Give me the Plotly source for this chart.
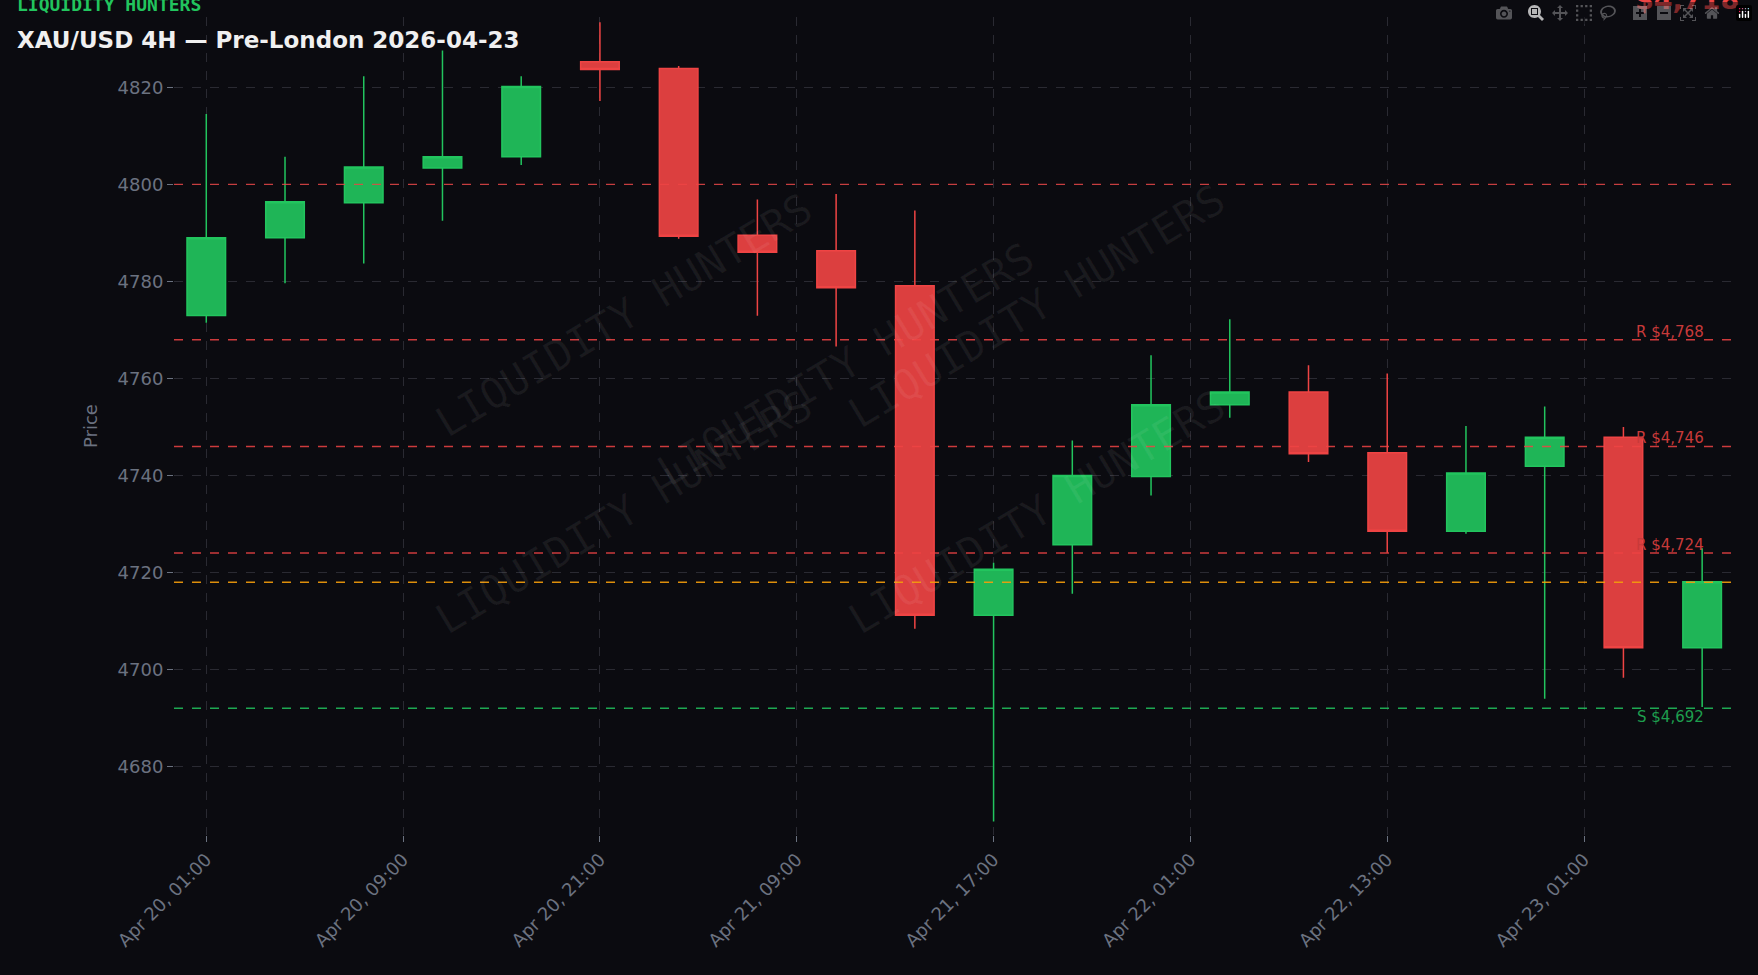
import plotly.graph_objects as go

# 4H candles, Apr 20 01:00 -> Apr 23 13:00
opens = [4773, 4789, 4796.2, 4803.4, 4805.7, 4825.3, 4823.9, 4789.5, 4786.3, 4779.1,
         4711.2, 4725.7, 4739.8, 4754.6, 4757.2, 4744.7, 4728.5, 4741.9, 4747.9, 4704.5]
closes = [4789, 4796.4, 4803.6, 4805.7, 4820.2, 4823.7, 4789.3, 4786, 4778.7, 4711.2,
          4720.7, 4740, 4754.6, 4757.2, 4744.5, 4728.5, 4740.5, 4747.9, 4704.5, 4718.1]
highs = [4814.5, 4805.7, 4822.3, 4827.6, 4822.3, 4833.4, 4824.4, 4796.9, 4798, 4794.6,
         4722, 4747.2, 4764.8, 4772.2, 4762.7, 4761, 4750.2, 4754.2, 4750, 4725]
lows = [4771.5, 4779.6, 4783.7, 4792.5, 4804, 4817.2, 4788.8, 4772.9, 4766.6, 4708.4,
        4668.7, 4715.6, 4735.9, 4751.9, 4742.8, 4724.1, 4728, 4694, 4698.3, 4692.3]

tick_pos = [0, 2.5, 5, 7.5, 10, 12.5, 15, 17.5]
tick_text = ["Apr 20, 01:00", "Apr 20, 09:00", "Apr 20, 21:00", "Apr 21, 09:00",
             "Apr 21, 17:00", "Apr 22, 01:00", "Apr 22, 13:00", "Apr 23, 01:00"]

resistance = [4768, 4746, 4724]
support = [4692]
current = 4718

bg = "#0b0b10"
green = "#22c55e"
red = "#ef4444"

fig = go.Figure()
fig.add_trace(go.Candlestick(
    x=list(range(len(opens))), open=opens, high=highs, low=lows, close=closes,
    increasing=dict(line=dict(color=green, width=1.5), fillcolor="#1fb557"),
    decreasing=dict(line=dict(color=red, width=1.5), fillcolor="#dc3f3f"),
    whiskerwidth=0, showlegend=False,
))

fig.add_hline(y=4800, line=dict(color=red, width=1.2, dash="dash"), opacity=0.8)
for lv in resistance:
    fig.add_hline(y=lv, line=dict(color=red, width=1.5, dash="dash"), opacity=0.85)
    fig.add_annotation(x=19.05, y=lv, text=f"R ${lv:,}", showarrow=False, xanchor="right",
                       yanchor="middle", yshift=8, font=dict(color="#c83a3a", size=15,
                       family="DejaVu Sans"))
for lv in support:
    fig.add_hline(y=lv, line=dict(color=green, width=1.5, dash="dash"), opacity=0.85)
    fig.add_annotation(x=19.05, y=lv, text=f"S ${lv:,}", showarrow=False, xanchor="right",
                       yanchor="middle", yshift=-9, font=dict(color="#1e9e4e", size=15,
                       family="DejaVu Sans"))
fig.add_hline(y=current, line=dict(color="#f59e0b", width=1.5, dash="dash"), opacity=0.9)

# watermarks
for (wx, wy) in [(0.16, 0.80), (0.43, 0.575), (0.68, 0.81), (0.16, 0.23), (0.68, 0.23)]:
    fig.add_annotation(xref="paper", yref="paper", x=wx, y=wy, text="LIQUIDITY HUNTERS",
                       showarrow=False, textangle=-31,
                       font=dict(color="rgba(255,255,255,0.06)", size=42, family="DejaVu Sans Mono"))

fig.add_annotation(xref="paper", yref="paper", x=-0.102, y=1.0, xanchor="left", yanchor="bottom",
                   text="<b>LIQUIDITY HUNTERS</b>", showarrow=False,
                   font=dict(color=green, size=18, family="DejaVu Sans Mono"))
fig.add_annotation(xref="paper", yref="paper", x=-0.102, y=0.99, xanchor="left", yanchor="top",
                   text="<b>XAU/USD 4H — Pre-London 2026-04-23</b>", showarrow=False,
                   font=dict(color="#f0f0f0", size=23, family="DejaVu Sans"))
fig.add_annotation(xref="paper", yref="paper", x=1.003, y=1.0, xanchor="right", yanchor="bottom",
                   text=f"<b>${current:,}</b>", showarrow=False,
                   font=dict(color=red, size=27, family="DejaVu Sans"))

axis_common = dict(showgrid=True, gridcolor="#2a2a32", griddash="dash", gridwidth=1,
                   zeroline=False, showline=False, tickfont=dict(color="#6b7280", size=18),
                   ticks="outside", ticklen=6, tickcolor="#6b7280")
fig.update_xaxes(range=[-0.41, 19.43], tickmode="array", tickvals=tick_pos, ticktext=tick_text,
                 tickangle=-45, rangeslider=dict(visible=False), **axis_common)
fig.update_yaxes(range=[4665.9, 4834.5], dtick=20, title=dict(text="Price", font=dict(color="#6b7280", size=18)),
                 **axis_common)
fig.update_layout(paper_bgcolor=bg, plot_bgcolor=bg,
                  margin=dict(l=174, r=22, t=17, b=140),
                  font=dict(family="DejaVu Sans", color="#6b7280"))
fig.write_html("out.html", default_width="100%", default_height="100vh",
               post_script="document.body.style.margin='0';document.body.style.background='#0b0b10';"
                           "window.dispatchEvent(new Event('resize'));")
